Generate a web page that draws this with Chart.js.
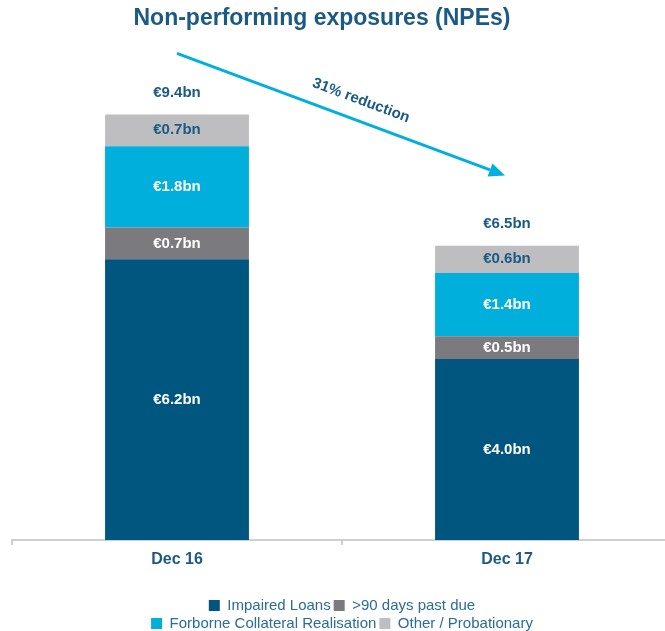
<!DOCTYPE html>
<html>
<head>
<meta charset="utf-8">
<script src="https://cdn.jsdelivr.net/npm/chart.js@4.4.0/dist/chart.umd.min.js"></script>
<style>
  html, body { margin: 0; padding: 0; background: #fff; overflow: hidden; }
</style>
</head>
<body>
<canvas id="chart" width="672" height="641"></canvas>
<script>
const chartTitle = 'Non-performing exposures (NPEs)'
const categories = ['Dec 16', 'Dec 17']
const seriesNames = ['Impaired Loans', '>90 days past due', 'Forborne Collateral Realisation', 'Other / Probationary']
const impairedLoans = [6.2, 4.0]
const pastDue90 = [0.7, 0.5]
const forborne = [1.8, 1.4]
const otherProbationary = [0.7, 0.6]
const totals = [9.4, 6.5]
const reductionLabel = '31% reduction'

const TEXT_BLUE = '#1b5a84'
const LEGEND_BLUE = '#2b6c99'
const ARROW_CYAN = '#00aedf'
const colors = ['#00567f', '#7b7a7f', '#00afdb', '#bebec0']

const fmt = v => '\u20ac' + v.toFixed(1) + 'bn'

Chart.defaults.font.family = '"Liberation Sans", Arial, Helvetica, sans-serif'

// labels, totals, arrow and title drawn on top of the bars
const npeExtras = {
  id: 'npeExtras',
  afterInit(chart) {
    // make the legend wrap to two rows like the original
    const legend = chart.legend
    const update = legend.update.bind(legend)
    legend.update = (w, h, m) => update(Math.min(w, 440), h, m)
  },
  afterDatasetsDraw(chart) {
    const { ctx, scales: { x, y } } = chart
    ctx.save()
    ctx.textAlign = 'center'
    ctx.textBaseline = 'middle'
    ctx.font = 'bold 15px "Liberation Sans", Arial, sans-serif'
    chart.data.datasets.forEach((ds, i) => {
      chart.getDatasetMeta(i).data.forEach((bar, j) => {
        ctx.fillStyle = i === 3 ? TEXT_BLUE : '#fff'
        ctx.fillText(fmt(ds.data[j]), bar.x, (bar.y + bar.base) / 2)
      })
    })
    chart.getDatasetMeta(3).data.forEach((bar, j) => {
      ctx.fillStyle = TEXT_BLUE
      ctx.fillText(fmt(totals[j]), bar.x, bar.y - 22)
    })

    // arrow from Dec 16 to Dec 17
    const x0 = x.getPixelForValue(0), y0 = y.getPixelForValue(10.75)
    const x1 = x.getPixelForValue(1) - 2, y1 = y.getPixelForValue(8.05)
    const ang = Math.atan2(y1 - y0, x1 - x0)
    const cos = Math.cos(ang), sin = Math.sin(ang)
    const head = 16, half = 7
    ctx.strokeStyle = ARROW_CYAN
    ctx.fillStyle = ARROW_CYAN
    ctx.lineWidth = 3
    ctx.beginPath()
    ctx.moveTo(x0, y0)
    ctx.lineTo(x1 - head * cos, y1 - head * sin)
    ctx.stroke()
    ctx.beginPath()
    ctx.moveTo(x1, y1)
    ctx.lineTo(x1 - head * cos + half * sin, y1 - head * sin - half * cos)
    ctx.lineTo(x1 - head * cos - half * sin, y1 - head * sin + half * cos)
    ctx.closePath()
    ctx.fill()

    const t = 0.54, d = 20
    const tx = x0 + (x1 - x0) * t + d * sin
    const ty = y0 + (y1 - y0) * t - d * cos
    ctx.translate(tx, ty)
    ctx.rotate(ang)
    ctx.fillStyle = TEXT_BLUE
    ctx.font = 'bold 15px "Liberation Sans", Arial, sans-serif'
    ctx.fillText(reductionLabel, 0, 0)
    ctx.restore()
  },
  afterDraw(chart) {
    const { ctx, chartArea } = chart
    ctx.save()
    ctx.font = 'bold 23px "Liberation Sans", Arial, sans-serif'
    ctx.fillStyle = TEXT_BLUE
    ctx.textAlign = 'center'
    ctx.textBaseline = 'alphabetic'
    ctx.fillText(chartTitle, (chartArea.left + chartArea.right) / 2 - 20, 25)
    ctx.restore()
  }
}

const seriesValues = [impairedLoans, pastDue90, forborne, otherProbationary]

new Chart(document.getElementById('chart'), {
  type: 'bar',
  data: {
    labels: categories,
    datasets: seriesNames.map((name, i) => ({
      label: name,
      data: seriesValues[i],
      backgroundColor: colors[i],
      borderWidth: 0,
      barPercentage: 0.436,
      categoryPercentage: 1.0
    }))
  },
  options: {
    responsive: false,
    animation: false,
    devicePixelRatio: 1,
    layout: { padding: { top: 42, left: 12, right: 0, bottom: 0 } },
    plugins: {
      tooltip: { enabled: false },
      title: { display: false },
      legend: {
        position: 'bottom',
        labels: {
          boxWidth: 11,
          boxHeight: 11,
          padding: 3,
          color: LEGEND_BLUE,
          font: { size: 15 }
        }
      }
    },
    scales: {
      x: {
        stacked: true,
        grid: { display: true, drawOnChartArea: false, drawTicks: true, tickLength: 5, color: '#cfcfcf', lineWidth: 2, offset: true },
        border: { display: true, color: '#cfcfcf', width: 2 },
        ticks: { color: TEXT_BLUE, font: { size: 16, weight: 'bold' }, padding: 5 },
        afterFit(scale) { scale.height = 55 }
      },
      y: { stacked: true, display: false, min: 0, max: 11 }
    }
  },
  plugins: [npeExtras]
})
</script>
</body>
</html>
